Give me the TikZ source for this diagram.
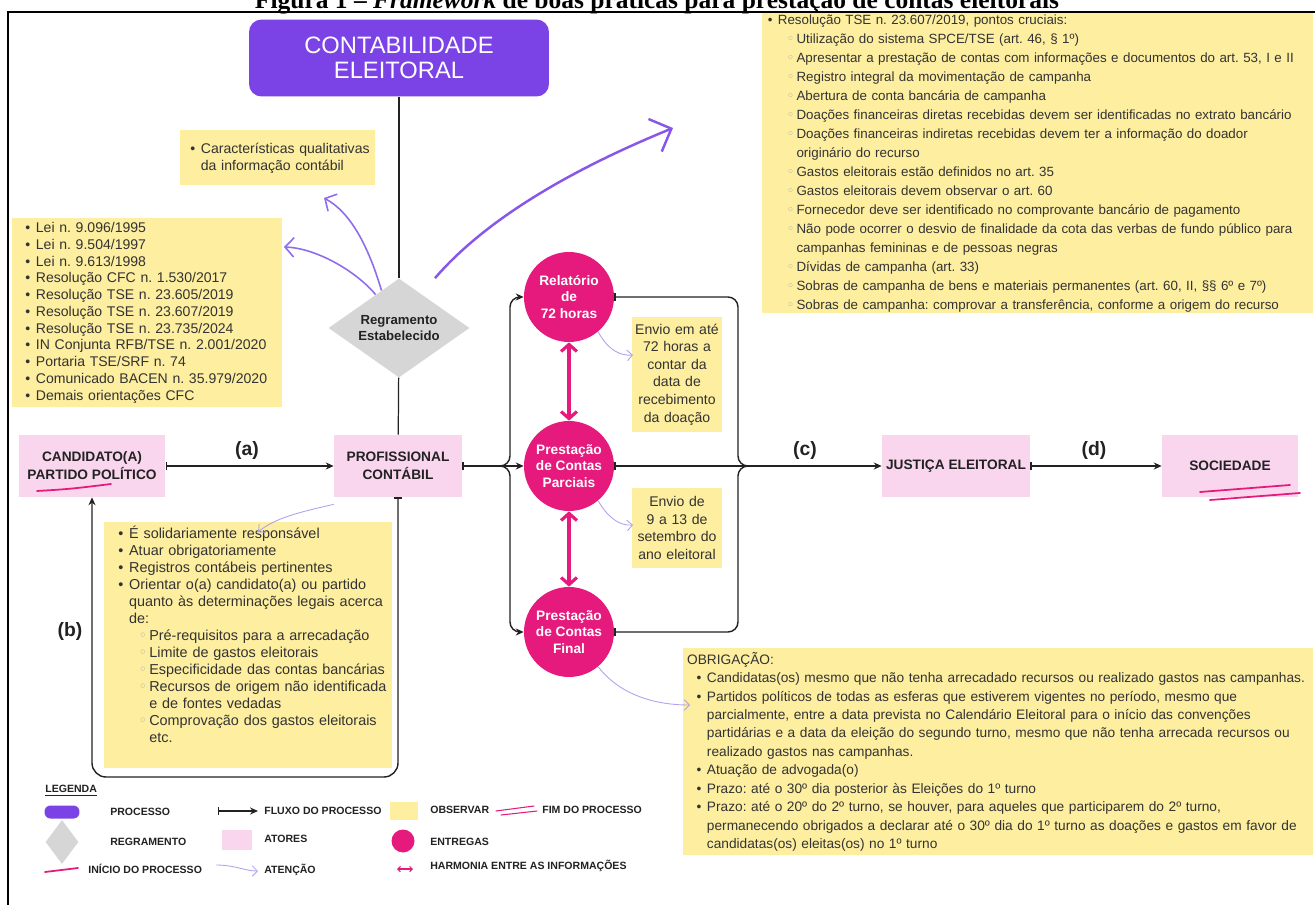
\documentclass[tikz,border=0pt]{standalone}
\usepackage{fontspec}
\setmainfont{Liberation Sans}
\newfontfamily\titlefont{Liberation Serif}
\newfontfamily\symfont{DejaVu Sans}
\usetikzlibrary{arrows.meta,shapes.geometric}

\definecolor{procpurple}{HTML}{7B43E6}
\definecolor{attnpurple}{HTML}{8F6CEB}
\definecolor{lightattn}{HTML}{B0A2F0}
\definecolor{reggray}{HTML}{D6D6D6}
\definecolor{obsyellow}{HTML}{FDEEA0}
\definecolor{actpink}{HTML}{F9D6EE}
\definecolor{delmag}{HTML}{E6197C}
\definecolor{inkdark}{HTML}{222222}
\definecolor{textgray}{HTML}{333333}

\newcommand{\bu}[1]{\mbox{\makebox[0.75em][l]{•}#1}}
\newcommand{\su}[1]{\mbox{\hspace*{1.4em}\makebox[0.75em][l]{{\symfont\color{gray!60}◦}}#1}}
\newcommand{\cbu}[1]{\mbox{\hspace*{0.75em}#1}}
\newcommand{\csu}[1]{\mbox{\hspace*{2.15em}#1}}

\tikzstyle{process}=[rectangle,rounded corners=0.25cm,fill=procpurple,text=white,align=center,inner sep=0pt,font=\fontsize{13.5}{14.5}\selectfont]
\tikzstyle{regra}=[diamond,fill=reggray,aspect=1.6,inner sep=0pt,align=center,text=inkdark,font=\fontsize{7.5}{9.5}\selectfont\bfseries]
\tikzstyle{actor}=[rectangle,fill=actpink,align=center,inner sep=0pt,minimum height=1.24cm,text=inkdark,font=\fontsize{7.8}{10.2}\selectfont\bfseries]
\tikzstyle{deliv}=[circle,fill=delmag,text=white,align=center,inner sep=0pt,minimum size=1.8cm,font=\fontsize{7.8}{9.6}\selectfont\bfseries]
\tikzstyle{obs}=[rectangle,fill=obsyellow,align=left,inner ysep=0pt,text=textgray]
\tikzstyle{link}=[draw=inkdark,line width=0.7pt]
\tikzstyle{flow}=[draw=inkdark,line width=0.8pt,arrows={Bar[width=4pt]-Stealth[length=4.5pt,width=4pt]}]
\tikzstyle{flowtail}=[draw=inkdark,line width=0.8pt,arrows={Bar[width=4pt]-}]
\tikzstyle{flowhead}=[draw=inkdark,line width=0.8pt,-{Stealth[length=4.5pt,width=4pt]}]
\tikzstyle{attn}=[draw=lightattn,line width=0.5pt,-{Straight Barb[length=3pt,width=6pt]}]
\tikzstyle{attnbold}=[draw=attnpurple,line width=0.9pt,-{Straight Barb[length=5pt,width=11pt]}]
\tikzstyle{attnbig}=[draw=procpurple!90,line width=1.4pt,-{Straight Barb[length=10pt,width=20pt]}]
\tikzstyle{harm}=[draw=delmag,line width=1.8pt,{Straight Barb[length=4pt,width=9pt]}-{Straight Barb[length=4pt,width=9pt]}]
\tikzstyle{tag}=[text=inkdark,font=\fontsize{11}{12}\selectfont\bfseries]
\tikzstyle{legtext}=[anchor=west,inner sep=0pt,text=inkdark,font=\fontsize{6}{7}\selectfont\bfseries]
\tikzstyle{startline}=[draw=delmag,line width=1pt,line cap=round]

\begin{document}
\frenchspacing
\begin{tikzpicture}[x=0.02cm,y=-0.02cm]
\useasboundingbox (0,0) rectangle (1315,905);
\fill[white] (0,0) rectangle (1315,905);

\node (title) at (657,9) [anchor=base,inner sep=0pt,font=\titlefont\fontsize{14.5}{16}\selectfont\bfseries] {Figura 1 – \textit{Framework} de boas práticas para prestação de contas eleitorais};
\draw[line width=1.1pt] (8,12) rectangle (1340,940);

\node (cont) at (399,58) [process,minimum width=6cm,minimum height=1.54cm] {CONTABILIDADE\\ELEITORAL};
\node (reg) at (399,328) [regra,minimum width=2.82cm,minimum height=1.98cm] {Regramento\\Estabelecido};

\node (cand) at (92,466) [actor,minimum width=2.94cm] {CANDIDATO(A)\\PARTIDO POLÍTICO};
\node (prof) at (398,466) [actor,minimum width=2.56cm] {PROFISSIONAL\\CONTÁBIL};
\node (jus) at (956,466) [actor,minimum width=2.96cm] {JUSTIÇA ELEITORAL};
\node (soc) at (1230,466) [actor,minimum width=2.72cm] {SOCIEDADE};

\node (rel) at (569,297) [deliv] {Relatório\\de\\72 horas};
\node (parc) at (569,466) [deliv] {Prestação\\de Contas\\Parciais};
\node (fin) at (569,632) [deliv] {Prestação\\de Contas\\Final};

\node (qual) at (180,130) [obs,anchor=north west,text width=3.5cm,inner xsep=0.2cm,minimum height=1.1cm,font=\fontsize{8}{9.7}\selectfont] {\bu{Características qualitativas}\\\cbu{da informação contábil}};

\node (leis) at (12,218) [obs,anchor=north west,text width=4.88cm,inner xsep=0.26cm,minimum height=3.78cm,font=\fontsize{8}{9.55}\selectfont] {\bu{Lei n. 9.096/1995}\\
\bu{Lei n. 9.504/1997}\\
\bu{Lei n. 9.613/1998}\\
\bu{Resolução CFC n. 1.530/2017}\\
\bu{Resolução TSE n. 23.605/2019}\\
\bu{Resolução TSE n. 23.607/2019}\\
\bu{Resolução TSE n. 23.735/2024}\\
\bu{IN Conjunta RFB/TSE n. 2.001/2020}\\
\bu{Portaria TSE/SRF n. 74}\\
\bu{Comunicado BACEN n. 35.979/2020}\\
\bu{Demais orientações CFC}};

\node (cruc) at (762,13) [obs,anchor=north west,text width=10.8cm,inner xsep=0.11cm,minimum height=6cm,font=\fontsize{7.6}{10.8}\selectfont] {\bu{Resolução TSE n. 23.607/2019, pontos cruciais:}\\
\su{Utilização do sistema SPCE/TSE (art. 46, § 1º)}\\
\su{Apresentar a prestação de contas com informações e documentos do art. 53, I e II}\\
\su{Registro integral da movimentação de campanha}\\
\su{Abertura de conta bancária de campanha}\\
\su{Doações financeiras diretas recebidas devem ser identificadas no extrato bancário}\\
\su{Doações financeiras indiretas recebidas devem ter a informação do doador}\\
\csu{originário do recurso}\\
\su{Gastos eleitorais estão definidos no art. 35}\\
\su{Gastos eleitorais devem observar o art. 60}\\
\su{Fornecedor deve ser identificado no comprovante bancário de pagamento}\\
\su{Não pode ocorrer o desvio de finalidade da cota das verbas de fundo público para}\\
\csu{campanhas femininas e de pessoas negras}\\
\su{Dívidas de campanha (art. 33)}\\
\su{Sobras de campanha de bens e materiais permanentes (art. 60, II, §§ 6º e 7º)}\\
\su{Sobras de campanha: comprovar a transferência, conforme a origem do recurso}};

\node (env1) at (677,374.5) [obs,align=center,text width=1.7cm,inner xsep=0.05cm,minimum height=2.3cm,font=\fontsize{8}{10}\selectfont] {Envio em até\\72 horas a\\contar da\\data de\\recebimento\\da doação};
\node (env2) at (677,528) [obs,align=center,text width=1.7cm,inner xsep=0.05cm,minimum height=1.6cm,font=\fontsize{8}{10}\selectfont] {Envio de\\9 a 13 de\\setembro do\\ano eleitoral};

\node (resp) at (104,522) [obs,anchor=north west,text width=5.2cm,inner xsep=0.28cm,minimum height=4.92cm,font=\fontsize{8.2}{9.7}\selectfont] {\bu{É solidariamente responsável}\\
\bu{Atuar obrigatoriamente}\\
\bu{Registros contábeis pertinentes}\\
\bu{Orientar o(a) candidato(a) ou partido}\\
\cbu{quanto às determinações legais acerca}\\
\cbu{de:}\\
\su{Pré-requisitos para a arrecadação}\\
\su{Limite de gastos eleitorais}\\
\su{Especificidade das contas bancárias}\\
\su{Recursos de origem não identificada}\\
\csu{e de fontes vedadas}\\
\su{Comprovação dos gastos eleitorais}\\
\csu{etc.}\\[0.1cm]\mbox{}};

\node (obrig) at (683,648) [obs,anchor=north west,text width=12.45cm,inner xsep=0.075cm,minimum height=4.14cm,font=\fontsize{7.8}{10.5}\selectfont] {\mbox{OBRIGAÇÃO:}\\
\mbox{\hspace*{0.7em}\bu{Candidatas(os) mesmo que não tenha arrecadado recursos ou realizado gastos nas campanhas.}}\\
\mbox{\hspace*{0.7em}\bu{Partidos políticos de todas as esferas que estiverem vigentes no período, mesmo que}}\\
\mbox{\hspace*{1.45em}parcialmente, entre a data prevista no Calendário Eleitoral para o início das convenções}\\
\mbox{\hspace*{1.45em}partidárias e a data da eleição do segundo turno, mesmo que não tenha arrecada recursos ou}\\
\mbox{\hspace*{1.45em}realizado gastos nas campanhas.}\\
\mbox{\hspace*{0.7em}\bu{Atuação de advogada(o)}}\\
\mbox{\hspace*{0.7em}\bu{Prazo: até o 30º dia posterior às Eleições do 1º turno}}\\
\mbox{\hspace*{0.7em}\bu{Prazo: até o 20º do 2º turno, se houver, para aqueles que participarem do 2º turno,}}\\
\mbox{\hspace*{1.45em}permanecendo obrigados a declarar até o 30º dia do 1º turno as doações e gastos em favor de}\\
\mbox{\hspace*{1.45em}candidatas(os) eleitas(os) no 1º turno}};

\draw[link] (cont) -- (reg);
\draw[link] (reg) -- (prof);
\draw[flow] (cand) -- (prof);
\node (ta) at (247,451) [tag] {(a)};
\draw[flow,rounded corners=8pt] (prof.south) -- (398,777) -- (92,777) -- (cand.south);
\node (tb) at (70,632) [tag] {(b)};

\coordinate (lb) at (500,466);
\coordinate (rb) at (748,466);
\draw[flowtail] (prof.east) -- (lb);
\draw[flowhead] (lb) to[out=0,in=-90] (510,456) -- (510,307) to[out=90,in=180] (520,297) -- (rel.west);
\draw[flowhead] (lb) -- (parc.west);
\draw[flowhead] (lb) to[out=0,in=90] (510,476) -- (510,622) to[out=-90,in=180] (520,632) -- (fin.west);
\draw[flowtail] (rel.east) -- (728,297) to[out=0,in=90] (738,307) -- (738,456) to[out=-90,in=180] (rb);
\draw[flowtail] (parc.east) -- (rb);
\draw[flowtail] (fin.east) -- (728,632) to[out=0,in=-90] (738,622) -- (738,476) to[out=90,in=180] (rb);
\draw[flowhead] (rb) -- (jus.west);
\node (tc) at (805,451) [tag] {(c)};
\draw[flow] (jus) -- (soc);
\node (td) at (1094,451) [tag] {(d)};

\draw[harm] (rel.south) -- (parc.north);
\draw[harm] (parc.south) -- (fin.north);

\coordinate (qualtip) at (324,198);
\coordinate (leistip) at (284,247);
\coordinate (cructip) at (673,128);
\coordinate (env1tip) at (633,355);
\coordinate (env2tip) at (633,525);
\coordinate (resptip) at (258,532);
\coordinate (obrigtip) at (690,705);
\draw[attnbold] (reg.115) .. controls (368,245) and (350,212) .. (qualtip);
\draw[attnbold] (reg.125) .. controls (355,270) and (315,248) .. (leistip);
\draw[attnbig] ([xshift=0.72cm]reg.north) .. controls (485,220) and (570,170) .. (cructip);
\draw[attn] (rel.-50) .. controls (608,350) and (620,356) .. (env1tip);
\draw[attn] (parc.-50) .. controls (608,518) and (620,526) .. (env2tip);
\draw[attn] ([yshift=-0.14cm]prof.south west) .. controls (300,512) and (275,518) .. (resptip);
\draw[attn] (fin.-50) .. controls (620,695) and (655,705) .. (obrigtip);

\draw[startline] (37,491) .. controls (70,489) .. (111,484);
\draw[startline] (1200,492) -- (1290,485);
\draw[startline] (1210,500) -- (1300,493);

\node (legtitle) at (45,791) [legtext] {\underline{LEGENDA}};
\node (lproc) at (62,812) [fill=procpurple,rounded corners=0.12cm,minimum width=0.7cm,minimum height=0.26cm,inner sep=0pt] {};
\node (tproc) at (110,812) [legtext] {PROCESSO};
\node (lreg) at (62,842) [diamond,fill=reggray,minimum width=0.66cm,minimum height=0.88cm,inner sep=0pt] {};
\node (treg) at (110,842) [legtext] {REGRAMENTO};
\draw[startline] (45,872) -- (78,868);
\node (tini) at (88,869) [legtext] {INÍCIO DO PROCESSO};
\draw[flow] (218,811) -- (258,811);
\node (tflu) at (264,811) [legtext] {FLUXO DO PROCESSO};
\node (lact) at (237,840) [fill=actpink,minimum width=0.6cm,minimum height=0.4cm,inner sep=0pt] {};
\node (tact) at (264,839) [legtext] {ATORES};
\draw[attn] (216,865) .. controls (235,865) and (245,871) .. (258,871);
\node (tatt) at (264,870) [legtext] {ATENÇÃO};
\node (lobs) at (404,811) [fill=obsyellow,minimum width=0.56cm,minimum height=0.36cm,inner sep=0pt] {};
\node (tobs) at (430,810) [legtext] {OBSERVAR};
\draw[startline,line width=0.6pt] (496,811) -- (534,806);
\draw[startline,line width=0.6pt] (501,815) -- (537,811);
\node (tfim) at (542,810) [legtext] {FIM DO PROCESSO};
\node (lent) at (403,841) [circle,fill=delmag,minimum size=0.46cm,inner sep=0pt] {};
\node (tent) at (430,842) [legtext] {ENTREGAS};
\draw[draw=delmag,line width=0.6pt,{Straight Barb[length=1.5pt,width=3pt]}-{Straight Barb[length=1.5pt,width=3pt]}] (397,869) -- (413,869);
\node (tharm) at (430,866) [legtext] {HARMONIA ENTRE AS INFORMAÇÕES};
\end{tikzpicture}
\end{document}
